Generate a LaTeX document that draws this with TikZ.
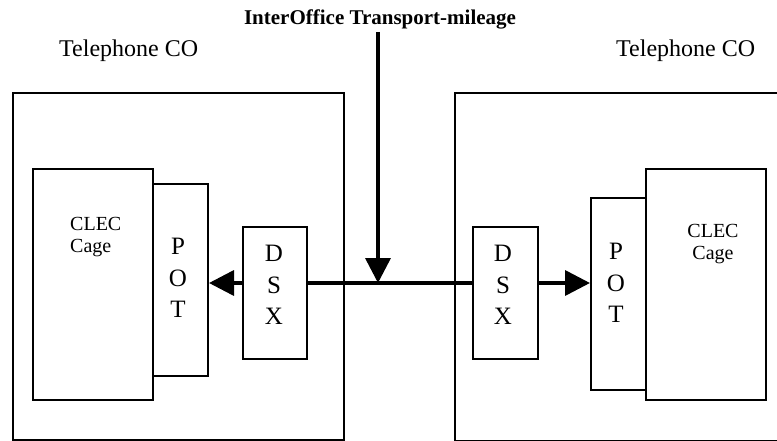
\documentclass[tikz,border=0pt]{standalone}
\usepackage{fontspec}
\setmainfont{Liberation Serif}
\usetikzlibrary{arrows.meta}
\begin{document}
\begin{tikzpicture}[x=1pt,y=-1pt,
  office/.style={draw, line width=2pt, inner sep=0pt, anchor=north west},
  unit/.style={draw, line width=2pt, inner sep=0pt, anchor=north west},
  stack/.style={inner sep=0pt, anchor=north, align=center, font=\fontsize{25}{31.5}\selectfont},
  cagetext/.style={inner sep=0pt, font=\fontsize{20}{22.5}\selectfont},
  colabel/.style={inner sep=0pt, anchor=base west, font=\fontsize{24}{28}\selectfont},
  link/.style={line width=3.6pt},
  feed/.style={line width=3.6pt, -{Triangle[length=25pt,width=25pt]}}
]
\useasboundingbox (0,0) rectangle (777,441);
\clip (0,0) rectangle (777,441);

% central offices
\node[office, minimum width=331pt, minimum height=347pt] (officeL) at (12,92) {};
\node[office, minimum width=340pt, minimum height=348pt] (officeR) at (454,92) {};
\node[colabel] (coL) at (59,57) {Telephone CO};
\node[colabel] (coR) at (616,57) {Telephone CO};

% left office equipment
\node[unit, minimum width=120pt, minimum height=231pt] (cageL) at (32,168) {};
\node[unit, minimum width=55pt, minimum height=192pt] (potL) at (152,183) {};
\node[unit, minimum width=64pt, minimum height=132pt] (dsxL) at (242,226) {};
\node[cagetext, anchor=north west, align=left] (cageLtext) at (70,217) {CLEC\\Cage};
\node[stack] (potLtext) at (178,238) {P\\O\\T};
\node[stack] (dsxLtext) at (274,245) {D\\S\\X};

% right office equipment
\node[unit, minimum width=120pt, minimum height=231pt] (cageR) at (645,168) {};
\node[unit, minimum width=55pt, minimum height=192pt] (potR) at (590,197) {};
\node[unit, minimum width=65pt, minimum height=132pt] (dsxR) at (472,226) {};
\node[cagetext, anchor=north, align=center] (cageRtext) at (713,224) {CLEC\\Cage};
\node[stack] (potRtext) at (616,243) {P\\O\\T};
\node[stack] (dsxRtext) at (503,245) {D\\S\\X};

% interoffice transport
\node[inner sep=0pt, anchor=base, font=\bfseries\fontsize{21}{25}\selectfont] (title) at (380,25) {InterOffice Transport-mileage};
\coordinate (bus) at (378,283);
\coordinate (drop) at (378,32);

\draw[link] (dsxL.east |- bus) -- (dsxR.west |- bus);
\draw[feed] (dsxL.west |- bus) -- (potL.east |- bus);
\draw[feed] (dsxR.east |- bus) -- (potR.west |- bus);
\draw[feed] (drop) -- (bus);
\end{tikzpicture}
\end{document}
